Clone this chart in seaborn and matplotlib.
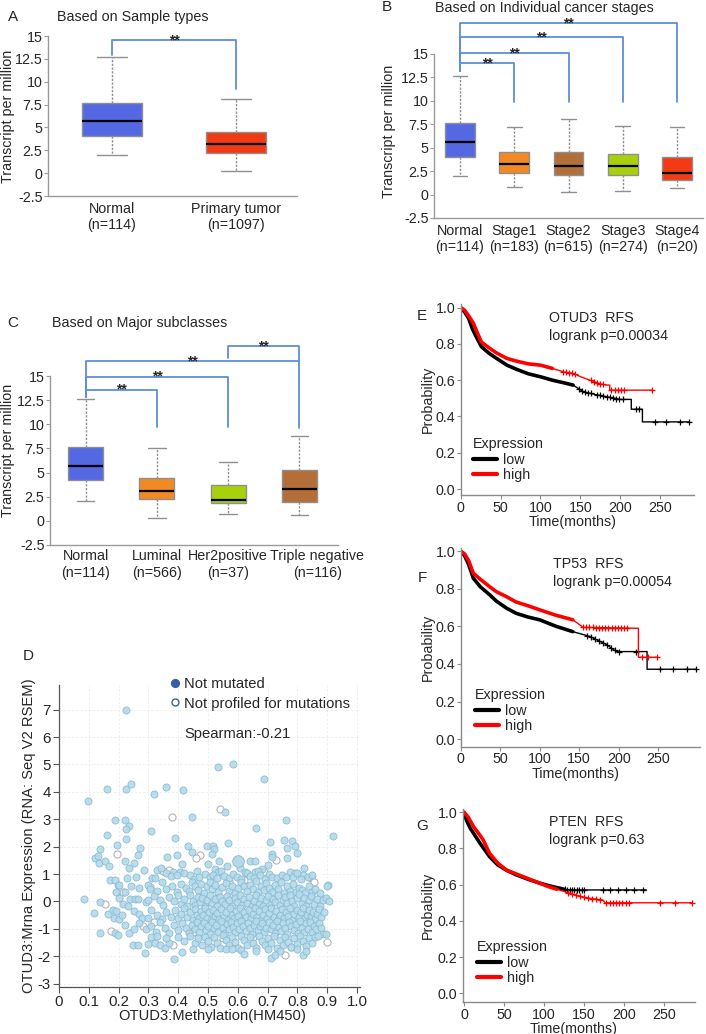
import matplotlib
matplotlib.use('Agg')
import matplotlib.pyplot as plt
from matplotlib.lines import Line2D
import numpy as np
import pandas as pd
import seaborn as sns

sns.set_style('white')
plt.rcParams['font.family'] = ['Liberation Sans', 'DejaVu Sans']
plt.rcParams['font.size'] = 10.3

# ---------------------------------------------------------------- box data
# each box: lower whisker, Q1, median, Q3, upper whisker (transcripts per million)
type_names = ['Normal', 'Primary tumor']
type_counts = [114, 1097]
type_stats = [[2.0, 4.1, 5.65, 7.65, 12.65],
              [0.25, 2.15, 3.2, 4.5, 8.1]]
type_colors = ['#5468E4', '#F23A14']

stage_names = ['Normal', 'Stage1', 'Stage2', 'Stage3', 'Stage4']
stage_counts = [114, 183, 615, 274, 20]
stage_stats = [[1.95, 4.05, 5.6, 7.65, 12.6],
               [0.85, 2.25, 3.25, 4.5, 7.25],
               [0.25, 2.05, 3.1, 4.5, 8.1],
               [0.4, 2.05, 3.1, 4.3, 7.35],
               [0.75, 1.6, 2.35, 4.0, 7.25]]
stage_colors = ['#5468E4', '#F28A24', '#B46E38', '#A9D00C', '#F23A14']

class_names = ['Normal', 'Luminal', 'Her2positive', 'Triple negative']
class_counts = [114, 566, 37, 116]
class_stats = [[2.04, 4.18, 5.7, 7.67, 12.6],
               [0.28, 2.28, 3.14, 4.39, 7.5],
               [0.69, 1.87, 2.18, 3.7, 6.08],
               [0.59, 1.97, 3.32, 5.25, 8.77]]
class_colors = ['#5468E4', '#F28A24', '#A9D00C', '#B46E38']
class_label_shift = [0, 0, 0, 0.25]   # the last label sits right of its box

tpm_ticks = [-2.5, 0, 2.5, 5, 7.5, 10, 12.5, 15]
tpm_labels = ['-2.5', '0', '2.5', '5', '7.5', '10', '12.5', '15']

# significance brackets: (group a, group b, bar level, start above a, end above b)
type_brackets = [(0, 1, 14.55, 12.9, 9.2)]
stage_brackets = [(0, 1, 14.0, 13.2, 9.85), (0, 2, 15.1, 13.2, 9.85),
                  (0, 3, 16.8, 13.2, 9.85), (0, 4, 18.3, 13.2, 9.85)]
class_brackets = [(0, 1, 13.6, 12.85, 9.74), (0, 2, 14.92, 12.85, 9.74),
                  (0, 3, 16.55, 12.85, 9.64), (2, 3, 18.1, 16.9, 16.55)]

# ---------------------------------------------------------------- scatter data (methylation, mRNA)
not_mutated = [
    (0.225, 6.97), (0.535, 4.89), (0.585, 5.03), (0.687, 4.47), (0.162, 4.10), (0.224, 4.12),
    (0.242, 4.28), (0.358, 4.17), (0.319, 3.93), (0.417, 4.06), (0.098, 3.65), (0.557, 3.25),
    (0.445, 3.09), (0.188, 2.99), (0.221, 2.98), (0.761, 2.97), (0.235, 2.74), (0.225, 2.65),
    (0.662, 2.69), (0.162, 2.41), (0.39, 2.32), (0.309, 2.58), (0.919, 2.39), (0.224, 2.29),
    (0.195, 2.07), (0.566, 2.13), (0.709, 2.17), (0.754, 2.25), (0.781, 2.2), (0.792, 2.04),
    (0.766, 1.95), (0.137, 1.92), (0.273, 1.95), (0.434, 2.02), (0.496, 2.02), (0.516, 2.04),
    (0.519, 1.9), (0.266, 1.7), (0.121, 1.59), (0.132, 1.66), (0.133, 1.4), (0.155, 1.46),
    (0.168, 1.28), (0.221, 1.46), (0.253, 1.39), (0.235, 1.22), (0.286, 1.16), (0.361, 1.62),
    (0.395, 1.68), (0.445, 1.8), (0.512, 1.74), (0.538, 1.47), (0.641, 1.47), (0.656, 1.47),
    (0.714, 1.74), (0.714, 1.62), (0.766, 1.59), (0.798, 1.78), (0.412, 1.38), (0.328, 1.16),
    (0.342, 1.22), (0.384, 1.07), (0.406, 1.07), (0.501, 1.38), (0.523, 1.19), (0.535, 1.07),
    (0.563, 1.28), (0.607, 1.22), (0.624, 1.09), (0.658, 1.07), (0.68, 1.17), (0.7, 1.35),
    (0.775, 1.09), (0.792, 1.03), (0.822, 1.22), (0.82, 0.95), (0.902, 0.61), (0.199, 0.61),
    # 0.8 .. 1.3
    (0.172, 0.80), (0.188, 0.77), (0.228, 0.85), (0.26, 0.88), (0.311, 0.85), (0.322, 0.86),
    (0.36, 1.05), (0.375, 0.92), (0.395, 0.98), (0.42, 1.05), (0.44, 0.95), (0.452, 0.82),
    (0.462, 1.12), (0.47, 0.9), (0.49, 1.02), (0.505, 0.88), (0.518, 0.97), (0.53, 0.84),
    (0.545, 1.1), (0.552, 0.93), (0.572, 0.86), (0.585, 1.0), (0.598, 0.9), (0.612, 0.82),
    (0.63, 1.05), (0.642, 0.93), (0.655, 0.86), (0.668, 1.12), (0.676, 0.95), (0.69, 0.83),
    (0.705, 1.0), (0.715, 0.9), (0.73, 0.84), (0.748, 0.97), (0.762, 0.88), (0.785, 0.9),
    (0.8, 1.05), (0.812, 0.82), (0.835, 0.9), (0.85, 0.95),
    # 0.3 .. 0.8
    (0.2, 0.6), (0.22, 0.35), (0.19, 0.36), (0.24, 0.55), (0.27, 0.5), (0.3, 0.62),
    (0.305, 0.45), (0.33, 0.4), (0.345, 0.7), (0.36, 0.45), (0.38, 0.55), (0.395, 0.35),
    (0.41, 0.65), (0.425, 0.5), (0.435, 0.38), (0.445, 0.72), (0.455, 0.55), (0.468, 0.42),
    (0.475, 0.65), (0.487, 0.32), (0.495, 0.55), (0.505, 0.7), (0.515, 0.45), (0.525, 0.6),
    (0.535, 0.35), (0.548, 0.52), (0.56, 0.68), (0.57, 0.4), (0.58, 0.58), (0.592, 0.3),
    (0.6, 0.48), (0.61, 0.72), (0.62, 0.55), (0.63, 0.38), (0.64, 0.62), (0.65, 0.45),
    (0.66, 0.75), (0.668, 0.33), (0.678, 0.55), (0.688, 0.42), (0.695, 0.68), (0.705, 0.5),
    (0.715, 0.35), (0.725, 0.62), (0.735, 0.45), (0.745, 0.72), (0.755, 0.3), (0.765, 0.55),
    (0.775, 0.4), (0.785, 0.65), (0.795, 0.35), (0.805, 0.5), (0.815, 0.42), (0.825, 0.3),
    (0.838, 0.55), (0.848, 0.35), (0.86, 0.45), (0.875, 0.3), (0.9, 0.58),
    # -0.2 .. 0.3
    (0.085, 0.1), (0.138, -0.02), (0.238, 0.1), (0.255, 0.1), (0.266, 0.1), (0.291, -0.02),
    (0.3, 0.04), (0.2, 0.12), (0.215, -0.1), (0.23, -0.15), (0.32, 0.2), (0.34, 0.05),
    (0.35, -0.12), (0.37, 0.15), (0.385, 0.0), (0.4, 0.22), (0.41, -0.08), (0.42, 0.1),
    (0.43, -0.18), (0.44, 0.25), (0.45, 0.02), (0.458, -0.12), (0.465, 0.18), (0.472, -0.02),
    (0.48, 0.12), (0.49, -0.15), (0.498, 0.05), (0.508, 0.22), (0.515, -0.05), (0.522, 0.1),
    (0.53, -0.18), (0.54, 0.15), (0.548, 0.0), (0.556, -0.1), (0.565, 0.2), (0.572, 0.05),
    (0.58, -0.15), (0.59, 0.12), (0.598, -0.02), (0.606, 0.25), (0.614, -0.12), (0.622, 0.08),
    (0.63, -0.05), (0.638, 0.18), (0.646, -0.16), (0.655, 0.02), (0.662, 0.22), (0.67, -0.08),
    (0.678, 0.12), (0.686, -0.18), (0.694, 0.05), (0.702, 0.2), (0.71, -0.1), (0.718, 0.1),
    (0.726, -0.02), (0.734, 0.24), (0.742, -0.14), (0.75, 0.06), (0.758, 0.16), (0.766, -0.06),
    (0.774, 0.22), (0.782, 0.0), (0.79, -0.15), (0.798, 0.12), (0.806, 0.28), (0.814, -0.04),
    (0.822, 0.14), (0.83, -0.18), (0.838, 0.06), (0.846, 0.2), (0.855, -0.08), (0.865, 0.1),
    (0.875, -0.15), (0.885, 0.05), (0.895, 0.12), (0.905, 0.0),
    # -0.7 .. -0.2
    (0.118, -0.41), (0.166, -0.45), (0.18, -0.3), (0.19, -0.35), (0.185, -0.6), (0.2, -0.65),
    (0.21, -0.5), (0.25, -0.35), (0.27, -0.45), (0.28, -0.6), (0.3, -0.6), (0.31, -0.3),
    (0.33, -0.5), (0.345, -0.65), (0.36, -0.4), (0.375, -0.55), (0.39, -0.3), (0.4, -0.62),
    (0.41, -0.45), (0.42, -0.25), (0.43, -0.55), (0.44, -0.38), (0.448, -0.68), (0.455, -0.28),
    (0.462, -0.5), (0.47, -0.62), (0.476, -0.35), (0.483, -0.48), (0.49, -0.25), (0.497, -0.6),
    (0.504, -0.4), (0.51, -0.68), (0.517, -0.3), (0.524, -0.52), (0.531, -0.42), (0.538, -0.65),
    (0.545, -0.28), (0.552, -0.55), (0.559, -0.38), (0.566, -0.68), (0.573, -0.22), (0.58, -0.48),
    (0.587, -0.6), (0.594, -0.33), (0.601, -0.52), (0.608, -0.25), (0.615, -0.66), (0.622, -0.4),
    (0.629, -0.55), (0.636, -0.3), (0.643, -0.62), (0.65, -0.45), (0.657, -0.25), (0.664, -0.58),
    (0.671, -0.36), (0.678, -0.68), (0.685, -0.5), (0.692, -0.28), (0.699, -0.6), (0.706, -0.42),
    (0.713, -0.22), (0.72, -0.55), (0.727, -0.35), (0.734, -0.65), (0.741, -0.48), (0.748, -0.28),
    (0.755, -0.6), (0.762, -0.4), (0.769, -0.52), (0.776, -0.25), (0.783, -0.66), (0.79, -0.45),
    (0.797, -0.32), (0.804, -0.58), (0.811, -0.4), (0.818, -0.22), (0.825, -0.62), (0.832, -0.48),
    (0.839, -0.3), (0.846, -0.55), (0.853, -0.38), (0.86, -0.65), (0.867, -0.45), (0.874, -0.28),
    (0.88, -0.58), (0.888, -0.4),
    # -1.2 .. -0.7
    (0.138, -1.14), (0.188, -1.14), (0.199, -1.24), (0.222, -0.85), (0.236, -1.14), (0.27, -0.8),
    (0.25, -1.0), (0.291, -1.02), (0.31, -0.9), (0.325, -1.1), (0.34, -0.75), (0.355, -0.95),
    (0.37, -1.15), (0.385, -0.85), (0.4, -1.05), (0.412, -0.78), (0.425, -0.95), (0.435, -1.15),
    (0.445, -0.85), (0.455, -1.0), (0.462, -0.75), (0.47, -1.12), (0.478, -0.9), (0.485, -0.78),
    (0.492, -1.05), (0.5, -0.88), (0.507, -1.18), (0.514, -0.75), (0.521, -0.98), (0.528, -0.85),
    (0.535, -1.1), (0.542, -0.72), (0.549, -0.95), (0.556, -1.15), (0.563, -0.82), (0.57, -1.02),
    (0.577, -0.75), (0.584, -0.92), (0.591, -1.12), (0.598, -0.8), (0.605, -1.0), (0.612, -0.72),
    (0.619, -0.88), (0.626, -1.08), (0.633, -0.78), (0.64, -0.98), (0.647, -1.18), (0.654, -0.85),
    (0.661, -0.72), (0.668, -1.05), (0.675, -0.9), (0.682, -0.78), (0.689, -1.12), (0.696, -0.95),
    (0.703, -0.75), (0.71, -1.02), (0.717, -0.85), (0.724, -1.15), (0.731, -0.72), (0.738, -0.92),
    (0.745, -1.08), (0.752, -0.8), (0.759, -0.98), (0.766, -1.18), (0.773, -0.75), (0.78, -0.9),
    (0.787, -1.05), (0.794, -0.82), (0.801, -1.15), (0.808, -0.72), (0.815, -0.95), (0.822, -1.1),
    (0.829, -0.8), (0.836, -1.0), (0.843, -0.75), (0.85, -1.12), (0.857, -0.88), (0.864, -1.02),
    (0.871, -0.78), (0.878, -0.95), (0.886, -1.2), (0.895, -1.18),
    # -1.7 .. -1.2
    (0.249, -1.6), (0.264, -1.57), (0.298, -1.54), (0.322, -1.52), (0.339, -1.59), (0.356, -1.7),
    (0.369, -1.53), (0.31, -1.3), (0.33, -1.25), (0.36, -1.35), (0.4, -1.3), (0.42, -1.45),
    (0.44, -1.25), (0.455, -1.5), (0.465, -1.35), (0.48, -1.6), (0.49, -1.28), (0.5, -1.45),
    (0.51, -1.65), (0.52, -1.3), (0.53, -1.5), (0.54, -1.7), (0.55, -1.22), (0.56, -1.4),
    (0.57, -1.58), (0.58, -1.3), (0.59, -1.48), (0.6, -1.68), (0.61, -1.25), (0.62, -1.42),
    (0.63, -1.6), (0.64, -1.3), (0.65, -1.5), (0.66, -1.7), (0.67, -1.25), (0.68, -1.45),
    (0.69, -1.6), (0.7, -1.32), (0.71, -1.52), (0.72, -1.25), (0.73, -1.68), (0.74, -1.4),
    (0.75, -1.58), (0.76, -1.28), (0.77, -1.48), (0.78, -1.65), (0.79, -1.35), (0.8, -1.55),
    (0.81, -1.25), (0.82, -1.45), (0.83, -1.62), (0.84, -1.35), (0.85, -1.5), (0.86, -1.3),
    (0.87, -1.25),
    # below -1.7
    (0.412, -1.85), (0.385, -2.09), (0.56, -1.75), (0.58, -1.72), (0.61, -1.78), (0.62, -1.9),
    (0.66, -1.82), (0.7, -1.75), (0.713, -2.05), (0.725, -1.95), (0.74, -1.8), (0.8, -1.72),
    (0.82, -1.95), (0.83, -1.8), (0.288, -1.88), (0.45, -1.72), (0.5, -1.75),
]
large_point = [(0.6, 1.47)]
not_profiled = [
    (0.539, 3.37), (0.38, 3.09), (0.194, 1.74), (0.474, 1.68), (0.46, 1.6), (0.727, 1.51),
    (0.37, 1.16), (0.35, 1.12), (0.689, 1.07), (0.846, 0.85), (0.857, 0.71), (0.305, 0.52),
    (0.216, 0.34), (0.154, -0.08), (0.174, -1.07), (0.283, -0.9), (0.384, -1.6), (0.55, -1.35),
    (0.6, -0.55), (0.72, 0.3), (0.78, -1.65), (0.76, -1.95), (0.9, -1.48), (0.45, -1.1),
    (0.53, 0.12), (0.62, 0.8), (0.65, -1.3), (0.32, -0.75), (0.57, 0.75),
]
meth_ticks = [0, 0.1, 0.2, 0.3, 0.4, 0.5, 0.6, 0.7, 0.8, 0.9, 1.0]
meth_labels = ['0', '0.1', '0.2', '0.3', '0.4', '0.5', '0.6', '0.7', '0.8', '0.9', '1.0']
mrna_ticks = [-3, -2, -1, 0, 1, 2, 3, 4, 5, 6, 7]

# ---------------------------------------------------------------- Kaplan-Meier data (months, survival)
# repeated months mark a visible vertical drop of the curve
otud3_low_t = [0, 5, 10, 15, 20, 26, 35, 45, 58, 70, 85, 100, 115, 130, 141, 154, 170, 183, 200, 214, 214, 228, 228, 287]
otud3_low_s = [1.0, 0.975, 0.94, 0.88, 0.835, 0.785, 0.75, 0.72, 0.683, 0.66, 0.635, 0.619, 0.60, 0.585, 0.573, 0.536, 0.52, 0.509, 0.494, 0.494, 0.44, 0.44, 0.37, 0.37]
otud3_high_t = [0, 5, 10, 16, 20, 26, 35, 45, 58, 70, 85, 100, 115, 130, 141, 150, 162, 175, 183, 187, 187, 240]
otud3_high_s = [1.0, 0.985, 0.955, 0.913, 0.87, 0.81, 0.78, 0.75, 0.72, 0.705, 0.69, 0.683, 0.665, 0.645, 0.637, 0.62, 0.60, 0.58, 0.573, 0.573, 0.545, 0.545]
otud3_low_cens = [148, 152, 156, 160, 163, 171, 175, 179, 183, 187, 191, 195, 199, 203, 220, 224, 244, 258, 275, 286]
otud3_high_cens = [128, 132, 136, 140, 144, 163, 167, 171, 175, 179, 189, 193, 197, 201, 205, 240]

tp53_low_t = [0, 5, 10, 16, 25, 37, 45, 58, 70, 85, 100, 121, 142, 164, 185, 197, 236, 236, 298]
tp53_low_s = [1.0, 0.975, 0.93, 0.856, 0.81, 0.767, 0.735, 0.697, 0.67, 0.65, 0.635, 0.60, 0.572, 0.546, 0.502, 0.466, 0.466, 0.372, 0.372]
tp53_high_t = [0, 5, 10, 16, 25, 37, 45, 58, 70, 85, 100, 120, 142, 155, 225, 225, 250]
tp53_high_s = [1.0, 0.985, 0.95, 0.883, 0.85, 0.81, 0.785, 0.758, 0.73, 0.71, 0.688, 0.66, 0.635, 0.595, 0.59, 0.436, 0.436]
tp53_low_cens = [160, 165, 170, 175, 180, 185, 190, 195, 200, 222, 252, 269, 286, 298]
tp53_high_cens = [155, 159, 163, 167, 171, 175, 179, 183, 187, 191, 195, 199, 203, 207, 211, 229, 237, 248]

pten_low_t = [0, 3, 8, 12, 20, 32, 42, 53, 65, 80, 95, 110, 125, 133, 228]
pten_low_s = [1.0, 0.957, 0.91, 0.884, 0.829, 0.755, 0.71, 0.68, 0.655, 0.63, 0.608, 0.59, 0.575, 0.571, 0.571]
pten_high_t = [0, 5, 12, 18, 24, 32, 42, 53, 65, 74, 85, 95, 105, 116, 132, 149, 165, 174, 176, 285]
pten_high_s = [1.0, 0.975, 0.92, 0.885, 0.847, 0.773, 0.72, 0.681, 0.66, 0.644, 0.625, 0.608, 0.59, 0.575, 0.553, 0.53, 0.52, 0.515, 0.50, 0.50]
pten_low_cens = [126, 129, 132, 135, 138, 141, 144, 147, 150, 174, 182, 193, 203, 213, 224]
pten_high_cens = [130, 135, 140, 145, 150, 155, 160, 165, 170, 178, 182, 186, 190, 194, 198, 202, 206, 245, 264, 285]

prob_ticks = [0.0, 0.2, 0.4, 0.6, 0.8, 1.0]
prob_labels = ['0.0', '0.2', '0.4', '0.6', '0.8', '1.0']
time_ticks = [0, 50, 100, 150, 200, 250]

# ---------------------------------------------------------------- figure
W, H = 706, 1034
fig = plt.figure(figsize=(W / 100, H / 100), dpi=100)
FS = 10.3
BRACKET = '#5D8FD8'


def px_axes(left, top, right, bottom):
    return fig.add_axes([left / W, 1 - bottom / H, (right - left) / W, (bottom - top) / H])


def px_text(x, y, s, **kw):
    kw.setdefault('fontsize', FS)
    kw.setdefault('va', 'center')
    fig.text(x / W, 1 - y / H, s, **kw)


def box_panel(box, names, counts, stats, colors, width, xlim, brackets, label_pad, shifts=None):
    ax = px_axes(*box)
    long = pd.DataFrame({'group': np.repeat(names, 5), 'tpm': np.concatenate(stats)})
    sns.boxplot(data=long, x='group', y='tpm', hue='group', order=names, hue_order=names,
                palette=colors, legend=False, whis=(0, 100), width=width, saturation=1,
                linecolor='#8f8f8f', linewidth=1, fliersize=0,
                medianprops={'color': 'black', 'linewidth': 1.6},
                whiskerprops={'linestyle': (0, (1.6, 1.1))},
                ax=ax)
    ax.set_xlim(xlim)
    ax.set_ylim(-2.5, 15)
    ax.set_yticks(tpm_ticks)
    ax.set_yticklabels(tpm_labels, fontsize=FS)
    # x ticks are invisible, so a label can be nudged by moving its tick
    if shifts is None:
        shifts = [0] * len(names)
    ax.set_xticks([i + dx for i, dx in enumerate(shifts)])
    ax.set_xticklabels([f'{n}\n(n={c})' for n, c in zip(names, counts)],
                       fontsize=FS, linespacing=1.25)
    ax.set_xlabel('')
    ax.set_ylabel('')
    sns.despine(ax=ax)
    for side in ['left', 'bottom']:
        ax.spines[side].set_color('#9a9a9a')
        ax.spines[side].set_linewidth(1)
    ax.tick_params(axis='y', length=3, color='#9a9a9a', pad=1, left=True)
    ax.tick_params(axis='x', length=0, pad=label_pad)
    for a, b, level, start, end in brackets:
        ax.plot([a, a, b, b], [start, level, level, end], color=BRACKET, lw=1.3, clip_on=False)
        ax.annotate('**', xy=((a + b) / 2, level), xytext=(0, -3), textcoords='offset points',
                    ha='center', va='baseline', fontsize=10, fontweight='bold', annotation_clip=False)
    return ax


# A
box_panel((48, 36, 297, 196), type_names, type_counts, type_stats, type_colors, 0.49,
          (-0.516, 1.492), type_brackets, 4)
px_text(8, 17, 'A', fontsize=11)
px_text(57, 17, 'Based on Sample types')
px_text(8, 116, 'Transcript per million', rotation=90, ha='center')

# B
box_panel((434, 54, 703, 218), stage_names, stage_counts, stage_stats, stage_colors, 0.55,
          (-0.479, 4.479), stage_brackets, 4)
px_text(382, 7, 'B', fontsize=11)
px_text(435, 8, 'Based on Individual cancer stages')
px_text(389, 131, 'Transcript per million', rotation=90, ha='center')

# C
box_panel((50, 376, 338, 545), class_names, class_counts, class_stats, class_colors, 0.49,
          (-0.501, 3.543), class_brackets, 3, class_label_shift)
px_text(7, 323, 'C', fontsize=11)
px_text(52, 323, 'Based on Major subclasses')
px_text(8, 450, 'Transcript per million', rotation=90, ha='center')

# D scatter
ax = px_axes(59, 685, 360, 987)
prof = pd.DataFrame(not_profiled, columns=['meth', 'mrna'])
muts = pd.DataFrame(not_mutated, columns=['meth', 'mrna'])
big = pd.DataFrame(large_point, columns=['meth', 'mrna'])
sns.scatterplot(data=prof, x='meth', y='mrna', s=26, color='white', edgecolor='#b4b4b4',
                linewidth=0.8, ax=ax, zorder=2)
sns.scatterplot(data=muts, x='meth', y='mrna', s=26, color='#B4DAEA', edgecolor='#88B9D2',
                linewidth=0.6, alpha=0.92, ax=ax, zorder=3)
sns.scatterplot(data=big, x='meth', y='mrna', s=70, color='#B4DAEA', edgecolor='#88B9D2',
                linewidth=0.6, ax=ax, zorder=3)
ax.set_xlim(0, 1.01)
ax.set_ylim(-3.12, 7.9)
ax.set_xticks(meth_ticks)
ax.set_xticklabels(meth_labels, fontsize=10.8)
ax.set_yticks(mrna_ticks)
ax.set_yticklabels([str(v) for v in mrna_ticks], fontsize=10.8)
ax.set_xlabel('')
ax.set_ylabel('')
ax.grid(True, color='#ececec', lw=0.6, ls=(0, (3, 2)))
sns.despine(ax=ax)
for side in ['left', 'bottom']:
    ax.spines[side].set_color('#555555')
    ax.spines[side].set_linewidth(0.9)
ax.tick_params(length=4, color='#555555', pad=2, left=True, bottom=True)
handles = [Line2D([], [], ls='', marker='o', ms=5.6, color='#3A5FA0'),
           Line2D([], [], ls='', marker='o', ms=5, mfc='white', mec='#3A5FA0', mew=1)]
ax.legend(handles, ['Not mutated', 'Not profiled for mutations'], loc='upper left',
          bbox_to_anchor=((171 - 59) / 301, 1.025), frameon=False, fontsize=10.6,
          handlelength=0.6, handletextpad=0.3, labelspacing=0.35, borderpad=0, borderaxespad=0)
px_text(184, 734, 'Spearman:-0.21', fontsize=10.6)
px_text(23, 656, 'D', fontsize=11)
px_text(29, 836, 'OTUD3:Mrna Expression (RNA: Seq V2 RSEM)', rotation=90, ha='center', fontsize=10.6)
px_text(212, 1016, 'OTUD3:Methylation(HM450)', ha='center', fontsize=10.6)


def km_panel(box, xlim, ylim, curves, letter, gene, pval, letter_y, text_xy, leg_xy):
    left, top, right, bottom = box
    ax = px_axes(*box)
    for t, s, cens, color, thick_end in curves:
        t = np.asarray(t)
        s = np.asarray(s)
        sns.lineplot(x=t, y=s, estimator=None, sort=False, color=color, lw=1.0, ax=ax)
        early = t <= thick_end
        sns.lineplot(x=t[early], y=s[early], estimator=None, sort=False, color=color, lw=2.6, ax=ax)
        ax.plot(cens, np.interp(cens, t, s), ls='', marker='+', ms=5, mew=0.9, color=color)
    ax.set_xlim(xlim)
    ax.set_ylim(ylim)
    ax.set_xticks(time_ticks)
    ax.set_xticklabels([str(v) for v in time_ticks], fontsize=FS)
    ax.set_yticks(prob_ticks)
    ax.set_yticklabels(prob_labels, fontsize=FS)
    ax.set_xlabel('')
    ax.set_ylabel('')
    sns.despine(ax=ax)
    for side in ['left', 'bottom']:
        ax.spines[side].set_color('#8a8a8a')
        ax.spines[side].set_linewidth(1)
    ax.tick_params(length=3, color='#8a8a8a', pad=1, left=True, bottom=True)
    handles = [Line2D([], [], color='black', lw=3), Line2D([], [], color='red', lw=3)]
    ax.legend(handles, ['low', 'high'], title='Expression', loc='upper left',
              bbox_to_anchor=((leg_xy[0] - left) / (right - left), (bottom - leg_xy[1]) / (bottom - top)),
              frameon=False, fontsize=FS, title_fontsize=FS, handlelength=1.7,
              handletextpad=0.4, labelspacing=0.12, borderpad=0, borderaxespad=0,
              alignment='left')
    px_text(text_xy[0], text_xy[1], f'{gene}  RFS')
    px_text(text_xy[0], text_xy[1] + 18, f'logrank p={pval}')
    px_text(422, letter_y, letter, fontsize=11, ha='center')
    px_text(428, (top + bottom) / 2, 'Probability', rotation=90, ha='center')
    px_text((left + right) / 2 - 5, bottom + 27, 'Time(months)', ha='center')
    return ax


km_panel((460.7, 304, 694, 495), (0, 292.7), (-0.033, 1.02),
         [(otud3_low_t, otud3_low_s, otud3_low_cens, 'black', 147),
          (otud3_high_t, otud3_high_s, otud3_high_cens, 'red', 125)],
         'E', 'OTUD3', '0.00034', 316, (549, 318), (473, 437))
km_panel((460.7, 548, 700, 746.7), (0, 303), (-0.04, 1.017),
         [(tp53_low_t, tp53_low_s, tp53_low_cens, 'black', 155),
          (tp53_high_t, tp53_high_s, tp53_high_cens, 'red', 150)],
         'F', 'TP53', '0.00054', 578, (553, 564), (475, 688))
km_panel((462.7, 809, 695, 1002), (-1.6, 288.75), (-0.048, 1.018),
         [(pten_low_t, pten_low_s, pten_low_cens, 'black', 128),
          (pten_high_t, pten_high_s, pten_high_cens, 'red', 128)],
         'G', 'PTEN', '0.63', 826, (549, 822), (477, 940))

fig.savefig('out.png', dpi=100)
